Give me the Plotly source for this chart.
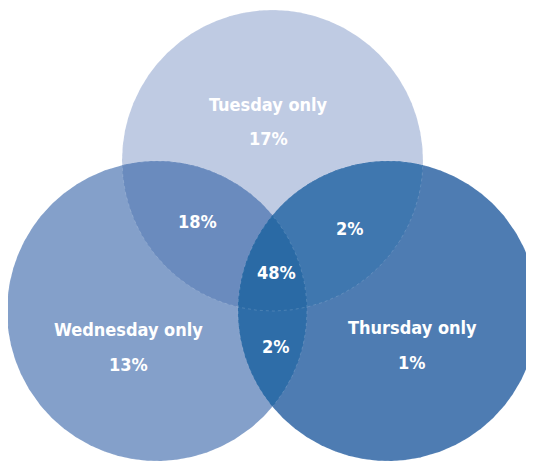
import numpy as np
import plotly.graph_objects as go

# Data
sets = ["Tuesday", "Wednesday", "Thursday"]
region_labels = ["Tuesday only", "Wednesday only", "Thursday only", "", "", "", ""]
region_sets = [("T",), ("L",), ("R",), ("T", "L"), ("T", "R"), ("L", "R"), ("T", "L", "R")]
region_values = [17, 13, 1, 18, 2, 2, 48]

# Layout geometry (page pixel space; the page body has an 8px margin)
W, H = 534, 461
OFF = 8
circles = {"T": (272.5, 160.5, 150.5), "L": (157.0, 311.0, 150.0), "R": (388.0, 311.0, 150.0)}
region_colors = ["#BFCBE3", "#84A0CA", "#4E7CB2", "#6A8BBE", "#3F77AF", "#2E6DA8", "#2A6AA5"]
label_pos = [(268, 104, 138), (128, 329, 364), (412, 327, 362),
             (197, None, 221), (350, None, 228), (276, None, 346), (276, None, 272)]

def region_polygon(keys, n=3000):
    pts = []
    for k in keys:
        cx, cy, r = circles[k]
        t = np.linspace(0, 2 * np.pi, n, endpoint=False)
        x = cx + r * np.cos(t)
        y = cy + r * np.sin(t)
        mask = np.ones(n, bool)
        for o in keys:
            if o == k:
                continue
            ox, oy, orr = circles[o]
            mask &= (x - ox) ** 2 + (y - oy) ** 2 <= orr ** 2 + 1e-6
        pts.append(np.column_stack([x[mask], y[mask]]))
    pts = np.vstack(pts)
    c = pts.mean(axis=0)
    order = np.argsort(np.arctan2(pts[:, 1] - c[1], pts[:, 0] - c[0]))
    pts = pts[order]
    pts = np.vstack([pts, pts[:1]])
    return pts[:, 0], pts[:, 1]

fig = go.Figure()
for keys, col in zip(region_sets, region_colors):
    x, y = region_polygon(keys)
    fig.add_trace(go.Scatter(x=x, y=y, mode="lines", fill="toself", fillcolor=col,
                             line=dict(width=0, color=col), hoverinfo="skip", showlegend=False))

# faint seams
for k, (cx, cy, r) in circles.items():
    t = np.linspace(0, 2 * np.pi, 600)
    fig.add_trace(go.Scatter(x=cx + r * np.cos(t), y=cy + r * np.sin(t), mode="lines",
                             line=dict(width=0.6, color="rgba(255,255,255,0.25)", dash="dot"),
                             hoverinfo="skip", showlegend=False))

font = dict(family="DejaVu Sans Condensed, Liberation Sans Narrow, sans-serif",
            size=18, color="white")
for lab, val, (x, ly, vy) in zip(region_labels, region_values, label_pos):
    if lab:
        fig.add_annotation(x=x, y=ly, text="<b>%s</b>" % lab, showarrow=False, font=font,
                           xanchor="center", yanchor="middle")
    fig.add_annotation(x=x, y=vy, text="<b>%d%%</b>" % val, showarrow=False, font=font,
                       xanchor="center", yanchor="middle")

fig.update_layout(width=W - OFF, height=H - OFF, margin=dict(l=0, r=0, t=0, b=0),
                  paper_bgcolor="white", plot_bgcolor="white",
                  xaxis=dict(range=[OFF, W], visible=False, fixedrange=True),
                  yaxis=dict(range=[H, OFF], visible=False, fixedrange=True))
fig.write_html("out.html", config={"displayModeBar": False})
